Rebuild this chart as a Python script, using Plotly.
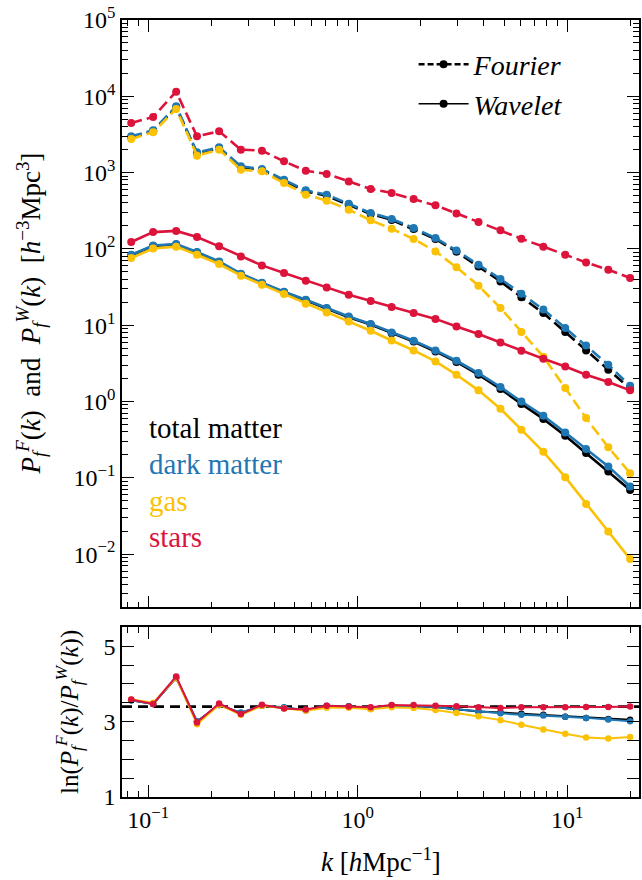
import numpy as np
import plotly.graph_objects as go

# ---------------- data ----------------
k = [0.0830, 0.1056, 0.136, 0.171, 0.218, 0.277, 0.349, 0.445, 0.565, 0.711, 0.906, 1.153,
     1.452, 1.848, 2.35, 2.96, 3.77, 4.80, 6.04, 7.69, 9.78, 12.3, 15.7, 19.95]

total_F = [2900, 3470, 7170, 1790, 2080, 1170, 1080, 784, 567, 498, 380, 287,
           240, 182, 135, 91.7, 59.0, 37.5, 23.3, 14.4, 8.17, 4.67, 2.61, 1.48]
total_W = [82, 109, 114, 89.4, 67.2, 46.4, 35.4, 27.0, 21.2, 16.5, 12.7, 10.2,
           7.85, 6.10, 4.53, 3.30, 2.25, 1.46, 0.93, 0.59, 0.356, 0.211, 0.121, 0.069]

dm_F = [2985, 3580, 7390, 1842, 2143, 1208, 1116, 808, 585, 514, 392, 296,
        247, 188, 139, 95.5, 62.1, 40.3, 25.9, 16.0, 9.18, 5.43, 3.03, 1.61]
dm_W = [84, 111, 116, 91.2, 68.6, 47.3, 36.1, 27.5, 21.6, 16.8, 13.0, 10.4,
        8.04, 6.26, 4.67, 3.42, 2.36, 1.55, 1.00, 0.65, 0.393, 0.238, 0.141, 0.0769]

gas_F = [2760, 3370, 6830, 1668, 2000, 1093, 1038, 731, 514, 429, 327, 237,
         184, 135, 92.7, 57.3, 33.0, 16.8, 8.15, 3.86, 1.50, 0.607, 0.251, 0.115]
gas_W = [76, 101, 107, 84, 63.4, 44.6, 34.0, 25.6, 19.1, 14.7, 11.2, 8.47,
         6.31, 4.67, 3.35, 2.24, 1.40, 0.804, 0.427, 0.219, 0.102, 0.0454, 0.0198, 0.0086]

stars_F = [4480, 5370, 11500, 2985, 3475, 2000, 1940, 1404, 1060, 960, 767, 610,
           541, 451, 372, 292, 225, 175, 136, 107, 84, 66.5, 53.4, 41.6]
stars_W = [123, 166, 172, 143, 108, 79.8, 60.8, 48.3, 38.3, 31.3, 25.1, 20.8,
           17.3, 14.4, 12.1, 9.64, 7.66, 5.94, 4.62, 3.63, 2.88, 2.24, 1.80, 1.40]

# ln(P^F / P^W)
total_ratio = [3.57, 3.47, 4.16, 3.00, 3.44, 3.23, 3.42, 3.37, 3.30, 3.41, 3.40, 3.34,
               3.42, 3.40, 3.39, 3.33, 3.27, 3.24, 3.21, 3.18, 3.13, 3.10, 3.07, 3.05]
dm_ratio = [3.57, 3.47, 4.17, 3.01, 3.44, 3.24, 3.43, 3.38, 3.30, 3.42, 3.41, 3.35,
            3.42, 3.40, 3.39, 3.33, 3.27, 3.22, 3.18, 3.16, 3.13, 3.10, 3.06, 3.01]
gas_ratio = [3.59, 3.50, 4.17, 2.93, 3.45, 3.18, 3.42, 3.35, 3.29, 3.37, 3.37, 3.33,
             3.38, 3.36, 3.31, 3.23, 3.14, 3.04, 2.92, 2.79, 2.68, 2.58, 2.55, 2.59]
stars_ratio = [3.59, 3.47, 4.20, 2.98, 3.48, 3.20, 3.45, 3.35, 3.32, 3.42, 3.40, 3.38,
               3.44, 3.44, 3.42, 3.41, 3.38, 3.36, 3.38, 3.38, 3.38, 3.39, 3.39, 3.40]

ref_ratio = 30.0   # dashed reference line at ln(30)

species = ["total matter", "dark matter", "gas", "stars"]
colors = ["#000000", "#1f77b4", "#fbc105", "#dc143c"]
fourier = [total_F, dm_F, gas_F, stars_F]
wavelet = [total_W, dm_W, gas_W, stars_W]
ratios = [total_ratio, dm_ratio, gas_ratio, stars_ratio]

y_major = [1e-2, 1e-1, 1e0, 1e1, 1e2, 1e3, 1e4, 1e5]
y_major_text = ["10<sup>−2</sup>", "10<sup>−1</sup>", "10<sup>0</sup>", "10<sup>1</sup>",
                "10<sup>2</sup>", "10<sup>3</sup>", "10<sup>4</sup>", "10<sup>5</sup>"]
x_major = [0.1, 1, 10]
x_major_text = ["10<sup>−1</sup>", "10<sup>0</sup>", "10<sup>1</sup>"]
r_major = [1, 3, 5]

# ---------------- figure ----------------
W, H = 642, 880
L, R, T, B = 122.3, 2.5, 20.4, 83.3
ph = H - T - B
pw = W - L - R
top_bottom_px = 607.3
bot_top_px = 627.3

def py(p):  # pixel y -> paper y
    return (H - B - p) / ph

def px(p):  # pixel x -> paper x
    return (p - L) / pw

FONT = "Liberation Serif"
fig = go.Figure()

# reference line in lower panel
fig.add_shape(type="line", xref="x2 domain", x0=0, x1=1, yref="y2",
              y0=float(np.log(ref_ratio)), y1=float(np.log(ref_ratio)),
              line=dict(color="black", width=2.7, dash="10px,6px"), layer="below")

DASH = "11px,5px"
for name, c, F, Wv, rr in zip(species, colors, fourier, wavelet, ratios):
    fig.add_trace(go.Scatter(x=k, y=F, mode="lines+markers", xaxis="x", yaxis="y",
                             line=dict(color=c, width=2.6, dash=DASH),
                             marker=dict(color=c, size=8), showlegend=False))
    fig.add_trace(go.Scatter(x=k, y=Wv, mode="lines+markers", xaxis="x", yaxis="y",
                             line=dict(color=c, width=2.6),
                             marker=dict(color=c, size=8), showlegend=False))
    fig.add_trace(go.Scatter(x=k, y=rr, mode="lines+markers", xaxis="x2", yaxis="y2",
                             line=dict(color=c, width=2),
                             marker=dict(color=c, size=6.5), showlegend=False))

# legend entries
fig.add_trace(go.Scatter(x=[None], y=[None], mode="lines+markers", name="<i>Fourier</i>",
                         line=dict(color="black", width=2.6, dash="6px,3px"),
                         marker=dict(color="black", size=8), xaxis="x", yaxis="y"))
fig.add_trace(go.Scatter(x=[None], y=[None], mode="lines+markers", name="<i>Wavelet</i>",
                         line=dict(color="black", width=1.6),
                         marker=dict(color="black", size=8), xaxis="x", yaxis="y"))

minor_log = [m * 10.0 ** e for e in range(-3, 6) for m in range(2, 10)]

axis_common = dict(showline=True, linecolor="black", linewidth=1.6, mirror="allticks",
                   ticks="inside", ticklen=12, tickwidth=1.3, tickcolor="black",
                   showgrid=False, zeroline=False,
                   tickfont=dict(family=FONT, size=24, color="black"))

xr = [np.log10(0.075), np.log10(22.0)]
fig.update_layout(
    width=W, height=H, margin=dict(l=L, r=R, t=T, b=B, pad=0),
    paper_bgcolor="white", plot_bgcolor="white",
    font=dict(family=FONT, color="black"),
    xaxis=dict(type="log", range=xr, anchor="y", domain=[0, 1], matches="x2",
               showticklabels=False, tickvals=x_major,
               minor=dict(tickvals=minor_log, ticks="inside", ticklen=6, tickwidth=1.2,
                          tickcolor="black"),
               **axis_common),
    xaxis2=dict(type="log", range=xr, anchor="y2", domain=[0, 1],
                tickvals=x_major, ticktext=x_major_text,
                minor=dict(tickvals=minor_log, ticks="inside", ticklen=6, tickwidth=1.2,
                           tickcolor="black"),
                **axis_common),
    yaxis=dict(type="log", range=[np.log10(0.002), 5], anchor="x",
               domain=[py(top_bottom_px), 1],
               tickvals=y_major, ticktext=y_major_text,
               minor=dict(tickvals=minor_log, ticks="inside", ticklen=6, tickwidth=1.2,
                          tickcolor="black"),
               **axis_common),
    yaxis2=dict(range=[1, 5.5], anchor="x2", domain=[0, py(bot_top_px)],
                tickvals=r_major,
                minor=dict(dtick=0.5, ticks="inside", ticklen=12, tickwidth=1.3,
                           tickcolor="black"),
                **axis_common),
    legend=dict(x=px(414), y=py(40), xanchor="left", yanchor="top",
                bgcolor="rgba(0,0,0,0)", font=dict(family=FONT, size=28, color="black"),
                itemwidth=50, tracegroupgap=0),
)

# species labels inside top panel
lab_y = [427.7, 464.3, 501, 537]
for name, c, yy in zip(species, colors, lab_y):
    fig.add_annotation(text=name, xref="paper", yref="paper", x=px(147), y=py(yy),
                       xanchor="left", yanchor="middle", showarrow=False,
                       font=dict(family=FONT, size=29, color=c))

# axis titles
P_F = "<i>P</i><sub><i>f</i></sub><sup><i>F</i></sup>(<i>k</i>)"
P_W = "<i>P</i><sub><i>f</i></sub><sup><i>W</i></sup>(<i>k</i>)"
fig.add_annotation(text=P_F + "\u00a0\u00a0and\u00a0\u00a0" + P_W +
                   "\u00a0\u00a0[<i>h</i><sup>−3</sup>Mpc<sup>3</sup>]",
                   xref="paper", yref="paper", x=px(31), y=py((20.4 + 607.3) / 2),
                   xanchor="center", yanchor="middle", textangle=-90, showarrow=False,
                   font=dict(family=FONT, size=27, color="black"))
fig.add_annotation(text="ln(" + P_F + "/" + P_W + ")",
                   xref="paper", yref="paper", x=px(70), y=py((627.3 + 796.7) / 2),
                   xanchor="center", yanchor="middle", textangle=-90, showarrow=False,
                   font=dict(family=FONT, size=25, color="black"))
fig.add_annotation(text="<i>k</i> [<i>h</i>Mpc<sup>−1</sup>]",
                   xref="paper", yref="paper", x=px(381), y=py(860),
                   xanchor="center", yanchor="middle", showarrow=False,
                   font=dict(family=FONT, size=27, color="black"))

fig.write_html("out.html")
